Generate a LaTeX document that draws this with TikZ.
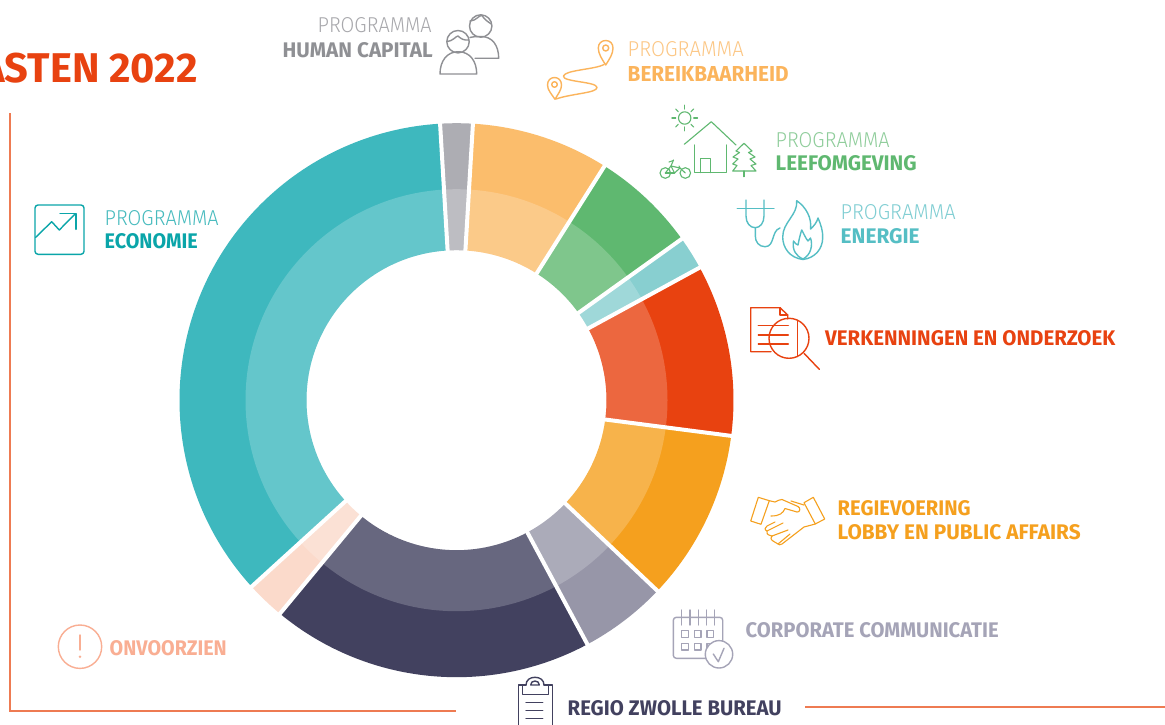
\documentclass[tikz,border=0pt]{standalone}
\usepackage{fontspec}
\setmainfont{Fira Sans}
\newfontfamily\lgt{Fira Sans Light}
\definecolor{cTeal}{HTML}{3EB8BE}
\definecolor{cGrey}{HTML}{ADADB3}
\definecolor{cSand}{HTML}{FBBD6C}
\definecolor{cGreen}{HTML}{5FB870}
\definecolor{cAqua}{HTML}{88CFD0}
\definecolor{cRed}{HTML}{E84210}
\definecolor{cOrange}{HTML}{F5A01E}
\definecolor{cLilac}{HTML}{9796A8}
\definecolor{cNavy}{HTML}{42415F}
\definecolor{cPeach}{HTML}{FBDACB}
\definecolor{cFrame}{HTML}{EE7B52}
\definecolor{tHuman}{HTML}{8F9094}
\definecolor{tBereik}{HTML}{FBB45C}
\definecolor{tEnergie}{HTML}{55BEC4}
\definecolor{tEco}{HTML}{0AA5A9}
\definecolor{tCorp}{HTML}{A5A4B7}
\definecolor{tOnv}{HTML}{F9AE93}
% name, colour, x, baseline y, width, height, text
\newcommand\lbl[7]{\node (#1) [anchor=base west,inner sep=0pt,text=#2] at (#3-0.5,#4+0.9) {\resizebox{#5pt}{#6pt}{#7}};}
\newcommand\dsector[3]{\fill[#1] (#2:277pt) arc[start angle=#2,end angle=#3,radius=277pt] -- (#3:150pt) arc[start angle=#3,end angle=#2,radius=150pt] -- cycle;}
\tikzset{icon/.style={line width=1.4pt,line join=round,line cap=round}}
\begin{document}
\begin{tikzpicture}[x=1pt,y=-1pt]
\useasboundingbox (0,0) rectangle (1165,725);
\clip (0,0) rectangle (1165,725);
\fill[white] (0,0) rectangle (1165,725);
% frame
\draw[cFrame,line width=1.2pt] (10,113) -- (10,711) -- (456,711);
\draw[cFrame,line width=1.2pt] (805,707) -- (1165,707);
% donut
\begin{scope}[shift={(456.5,400.2)},y=1pt]
\dsector{cGrey}{93.4}{86.6}
\dsector{cSand}{86.6}{57.7}
\dsector{cGreen}{57.7}{35.6}
\dsector{cAqua}{35.6}{28.6}
\dsector{cRed}{28.6}{-7.4}
\dsector{cOrange}{-7.4}{-43.5}
\dsector{cLilac}{-43.5}{-61.8}
\dsector{cNavy}{-61.8}{-129.6}
\dsector{cPeach}{-129.6}{-137.7}
\dsector{cTeal}{-137.7}{-266.6}
\fill[white,opacity=.2,even odd rule] (0,0) circle[radius=211pt] (0,0) circle[radius=150pt];
\foreach \a in {93.4,86.6,57.7,35.6,28.6,-7.4,-43.5,-61.8,-129.6,-137.7}
  \draw[white,line width=4pt] (\a:140pt) -- (\a:285pt);
\end{scope}
% title
\node (title) [anchor=base east,inner sep=0pt,text=cRed] at (198,82.5) {\resizebox{!}{29.5pt}{\bfseries ASTEN 2022}};
% labels
\lbl{hp}{tHuman!78}{318}{32}{114}{15}{\lgt PROGRAMMA}
\lbl{hc}{tHuman}{283}{56.5}{150}{15}{\bfseries HUMAN CAPITAL}
\lbl{bp}{tBereik!75}{628}{56}{116}{15}{\lgt PROGRAMMA}
\lbl{bb}{tBereik}{628}{81}{161}{15}{\bfseries BEREIKBAARHEID}
\lbl{lp}{cGreen!70}{776}{147}{114}{15}{\lgt PROGRAMMA}
\lbl{lb}{cGreen}{776}{170}{141}{15}{\bfseries LEEFOMGEVING}
\lbl{ep}{tEnergie!75}{841}{219}{115}{15}{\lgt PROGRAMMA}
\lbl{eb}{tEnergie}{841}{243}{79}{15}{\bfseries ENERGIE}
\lbl{ecp}{tEco!75}{105}{225}{114}{15}{\lgt PROGRAMMA}
\lbl{ecb}{tEco}{105}{248}{93}{15}{\bfseries ECONOMIE}
\lbl{ver}{cRed}{825.5}{345}{290}{15}{\bfseries VERKENNINGEN EN ONDERZOEK}
\lbl{reg}{cOrange}{838}{515}{133}{15}{\bfseries REGIEVOERING}
\lbl{lob}{cOrange}{838}{539}{243}{15}{\bfseries LOBBY EN PUBLIC AFFAIRS}
\lbl{cor}{tCorp}{746}{636.5}{253}{15}{\bfseries CORPORATE COMMUNICATIE}
\lbl{onv}{tOnv}{110}{654.5}{117}{15}{\bfseries ONVOORZIEN}
\lbl{rzb}{cNavy}{568}{714.5}{214}{15}{\bfseries REGIO ZWOLLE BUREAU}
% human capital icon
\begin{scope}[icon,tHuman]
\draw (480.7,26) circle[radius=11.2pt];
\draw (470,21) .. controls (476,21) and (479,15) .. (482,15.5) .. controls (484,19) and (488,22) .. (491.3,24);
\draw (470,37.5) .. controls (474,36.5) and (478,36.5) .. (481,36.5) .. controls (492,36.5) and (498.7,45) .. (498.7,58.3) -- (475,58.3);
\fill[white] (458,41.7) circle[radius=11.2pt];
\draw (458,41.7) circle[radius=11.2pt];
\draw (447.5,41.5) .. controls (453,41) and (456,36) .. (458,36) .. controls (461,39) and (464,40.5) .. (468.8,40);
\draw (440,74) .. controls (440,61) and (447,51.7) .. (458.3,51.7) .. controls (469.7,51.7) and (476.7,61) .. (476.7,74) -- cycle;
\end{scope}
% route icon
\begin{scope}[icon,tBereik]
\draw (605.7,65) .. controls (602,59) and (598.3,54) .. (598.3,48) .. controls (598.3,43.5) and (601.5,40.5) .. (605.7,40.5) .. controls (610,40.5) and (613,43.5) .. (613,48) .. controls (613,54) and (609.5,59) .. (605.7,65) -- cycle;
\draw (605.7,48) circle[radius=3pt];
\draw (555,99.3) .. controls (551.5,94) and (547.5,90) .. (547.5,85) .. controls (547.5,80.5) and (550.5,77.5) .. (554.5,77.5) .. controls (558.5,77.5) and (561.5,80.5) .. (561.5,85) .. controls (561.5,90) and (558,94) .. (555,99.3) -- cycle;
\draw (554.5,84.5) circle[radius=2.8pt];
\draw (604,64.5) .. controls (595,69.5) and (565,70) .. (563.5,76) .. controls (562,82) and (597,81.5) .. (597,87.5) .. controls (597,93) and (572,93.5) .. (556,99);
\end{scope}
% leefomgeving icon
\begin{scope}[icon,cGreen,line width=1.1pt]
\draw (684.7,118) circle[radius=6.2pt];
\foreach \a in {0,45,...,315} \draw (684.7,118) ++(\a:9pt) -- ++(\a:3.8pt);
\draw (684.3,144.3) -- (711.3,121.7) -- (736,145);
\draw (694.7,145) -- (694.7,172.7) -- (726.7,172.7) -- (726.7,145);
\draw (700.7,172.7) -- (700.7,158.7) -- (710.3,158.7) -- (710.3,172.7);
\draw (744,143.3) -- (752,151) -- (748.5,152.5) -- (755,157) -- (750,159) -- (756,164) -- (751,165.5) -- (756,171) -- (732.7,171) -- (737,165.5) -- (732.7,164) -- (738,159) -- (733,157) -- (739.5,152.5) -- (736,151) -- cycle;
\draw (744,171) -- (744,176.7);
\draw (665.3,173) circle[radius=5.3pt];
\draw (685.3,173) circle[radius=5.3pt];
\draw (665.3,173) -- (671,166) -- (680,168) -- (685.3,173);
\draw (671,166) -- (674.5,173) -- (680,168) -- (679,166);
\draw (665.3,173) -- (674.5,173);
\draw (673.5,160) -- (671,166);
\draw (669,162) -- (673.5,160.5);
\end{scope}
% energie icon
\begin{scope}[icon,tEnergie]
\draw (737.3,208.7) -- (774,208.7);
\draw (746,200) -- (746,216) .. controls (746,223) and (750,227.7) .. (755.3,227.7) .. controls (760,227.7) and (764,223) .. (764,216) -- (764,200);
\draw (755.3,227.7) -- (755.3,236) .. controls (755.3,242) and (759,246.7) .. (765,246.7) .. controls (775,246.7) and (771,231) .. (780,228);
\draw (803,259.5) .. controls (790,258) and (782.7,248) .. (782.7,237) .. controls (782.7,222) and (798,215) .. (796.7,200.7) .. controls (806,207) and (812,218) .. (810.5,229) .. controls (814,226) and (817,222) .. (818,218) .. controls (821,225) and (823,231) .. (822.7,238) .. controls (822.5,249) and (815,258) .. (803,259.5);
\draw (803,259) .. controls (796,256) and (792,250) .. (793.5,241) .. controls (795,243) and (796.5,245) .. (798,245) .. controls (799,240) and (800,235) .. (801.7,230) .. controls (804,234) and (806,239) .. (808,241) .. controls (809,240) and (810,239) .. (810.5,238) .. controls (813,245) and (811,255) .. (803,259);
\end{scope}
% onderzoek icon
\begin{scope}[icon,cRed]
\draw (771,351.7) -- (750.7,351.7) -- (750.7,307.7) -- (780,307.7) -- (787.7,315) -- (787.7,319);
\draw (780,307.7) -- (780,315) -- (787.7,315);
\draw (758.3,325.7) -- (788.3,325.7);
\draw (758.3,335) -- (788.3,335);
\draw (758.3,344) -- (788.3,344);
\draw (789,338.3) circle[radius=20pt];
\draw (797.3,320.5) -- (797.3,356);
\draw (804,353.3) -- (819.3,369.3);
\end{scope}
% handshake icon
\begin{scope}[icon,cOrange,line width=1.1pt]
\draw (758.3,497.3) -- (769.3,500.7) -- (761,524.3) -- (750.7,521) -- cycle;
\draw (804,502.7) -- (813.3,497.3) -- (824.7,519) -- (815.3,524) -- cycle;
\draw (769.3,500.7) -- (775,502) .. controls (778,501) and (780,499) .. (782,499.5) -- (798,506.5) .. controls (801,508) and (800,512.5) .. (797,512) -- (785,508.5) .. controls (783,513) and (780,516) .. (771,516);
\draw (804,505) -- (791,501);
\draw (815.3,524) -- (804,527) -- (782,544) .. controls (780,545) and (779,545) .. (778,544) -- (773,541) .. controls (770,539) and (771,537) .. (772,536) .. controls (767,535) and (766,533) .. (767,531) .. controls (764,530) and (765,527) .. (767,526) -- (775,522);
\draw (767,531) -- (783,523);
\draw (772,536) -- (788,530);
\draw (778,544) -- (790,534);
\end{scope}
% calendar icon
\begin{scope}[icon,tCorp]
\draw[rounded corners=3pt] (673.3,617.3) rectangle (722.7,658.3);
\foreach \x in {681.7,690,698.3,706.7,714.3} \draw (\x,610) -- (\x,625);
\foreach \x in {681.7,694.3,707} \draw (\x,630.7) rectangle ++(6.7,6.6);
\foreach \x in {681.7,694.3,707} \draw (\x,643.3) rectangle ++(6.7,6.7);
\filldraw[fill=white] (719,654.3) circle[radius=13.7pt];
\draw (713.3,654) -- (718.3,661.7) -- (724,648.3);
\end{scope}
% clipboard icon
\begin{scope}[icon,cNavy]
\draw (526,685) -- (518.3,685) -- (518.3,730);
\draw (544,685) -- (552.3,685) -- (552.3,730);
\draw (522.7,685) -- (522.7,694.3) -- (548.3,694.3) -- (548.3,685);
\draw (526,685) .. controls (526,680) and (530,677.3) .. (535,677.3) .. controls (540,677.3) and (544,680) .. (544,685);
\draw (530.7,685) .. controls (530.7,682.5) and (532.5,681) .. (535,681) .. controls (537.5,681) and (539.3,682.5) .. (539.3,685) -- cycle;
\foreach \y in {702.7,710.7,718.7} \draw (526,\y) -- (542.7,\y);
\end{scope}
% onvoorzien icon
\begin{scope}[icon,tOnv]
\draw (80,646.7) circle[radius=21.7pt];
\draw (80,635) -- (80,650);
\fill (80,656.7) circle[radius=1.4pt];
\end{scope}
% economie icon
\begin{scope}[icon,tEco]
\draw[rounded corners=3pt] (35,205) rectangle (84,254.3);
\draw (35.7,237.3) -- (51.7,221.7) -- (59.3,230) -- (75,214);
\draw (60,213.3) -- (76,213.3) -- (76,229.3);
\end{scope}
\end{tikzpicture}
\end{document}
